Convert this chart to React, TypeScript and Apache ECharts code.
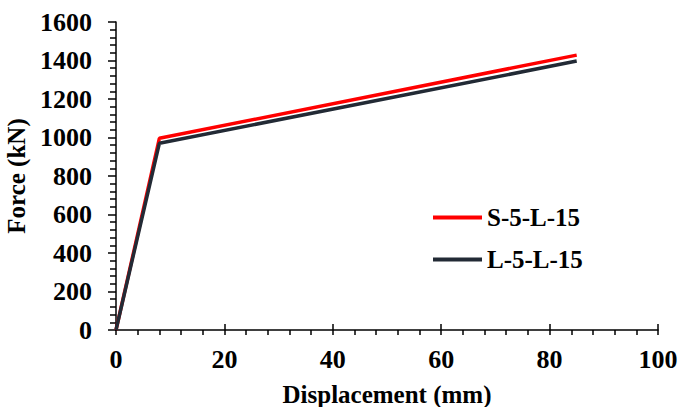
import React, { useEffect, useRef } from "react";
import * as echarts from "echarts";

const displacement = [0, 8, 85];
const forceS = [0, 996, 1428];
const forceL = [0, 970, 1397];
const seriesNames = ["S-5-L-15", "L-5-L-15"];
const seriesColors = ["#ff0000", "#222a35"];

const FONT = "'Times New Roman', 'Liberation Serif', serif";

export default function App() {
  const ref = useRef<HTMLDivElement>(null);
  useEffect(() => {
    if (!ref.current) return;
    const chart = echarts.init(ref.current, undefined, { renderer: "svg" });
    const mk = (ys: number[]) => displacement.map((x, i) => [x, ys[i]]);
    const axisLine = { show: true, lineStyle: { color: "#000", width: 1.5 } };
    const fmt = (v: number) => String(v);
    chart.setOption({
      animation: false,
      backgroundColor: "#fff",
      textStyle: { fontFamily: FONT },
      grid: { left: 116, right: 21, top: 22, bottom: 77, outerBoundsMode: "none", containLabel: false },
      legend: {
        orient: "vertical",
        left: 433,
        top: 205,
        padding: 0,
        icon: "rect",
        itemWidth: 49,
        itemHeight: 4,
        itemGap: 17,
        textStyle: { fontFamily: FONT, fontWeight: "bold", fontSize: 25, color: "#000", padding: [0, 0, 0, 0] },
        data: seriesNames,
      },
      xAxis: [
        {
          type: "value",
          min: 0,
          max: 100,
          interval: 20,
          name: "Displacement (mm)",
          nameLocation: "middle",
          nameGap: 52,
          nameTextStyle: { fontFamily: FONT, fontWeight: "bold", fontSize: 25, color: "#000" },
          axisLine,
          axisTick: { show: true, length: 5, lineStyle: { color: "#000", width: 1.5 } },
          minorTick: { show: true, splitNumber: 5, length: 5, lineStyle: { color: "#000", width: 1.5 } },
          splitLine: { show: false },
          axisLabel: { margin: 16, formatter: fmt, fontFamily: FONT, fontWeight: "bold", fontSize: 26, color: "#000" },
        },
        {
          type: "value",
          min: 0,
          max: 100,
          interval: 20,
          position: "bottom",
          axisLine: { show: false },
          axisTick: { show: true, inside: true, length: 6, lineStyle: { color: "#000", width: 1.5 } },
          splitLine: { show: false },
          axisLabel: { show: false },
        },
      ],
      yAxis: {
        type: "value",
        min: 0,
        max: 1600,
        interval: 200,
        name: "Force (kN)",
        nameLocation: "middle",
        nameGap: 76,
        nameTextStyle: { fontFamily: FONT, fontWeight: "bold", fontSize: 25, color: "#000" },
        axisLine,
        axisTick: { show: true, length: 8, lineStyle: { color: "#000", width: 1.5 } },
        minorTick: { show: true, splitNumber: 5, length: 6, lineStyle: { color: "#000", width: 1.5 } },
        splitLine: { show: false },
        axisLabel: { margin: 24, formatter: fmt, fontFamily: FONT, fontWeight: "bold", fontSize: 26, color: "#000" },
      },
      series: [
        {
          name: seriesNames[0],
          type: "line",
          data: mk(forceS),
          symbol: "none",
          color: seriesColors[0],
          lineStyle: { color: seriesColors[0], width: 3.5 },
        },
        {
          name: seriesNames[1],
          type: "line",
          data: mk(forceL),
          symbol: "none",
          color: seriesColors[1],
          lineStyle: { color: seriesColors[1], width: 3.5 },
        },
      ],
    });
    return () => chart.dispose();
  }, []);
  return <div ref={ref} style={{ width: 679, height: 407, position: "absolute", left: 0, top: 0 }} />;
}
